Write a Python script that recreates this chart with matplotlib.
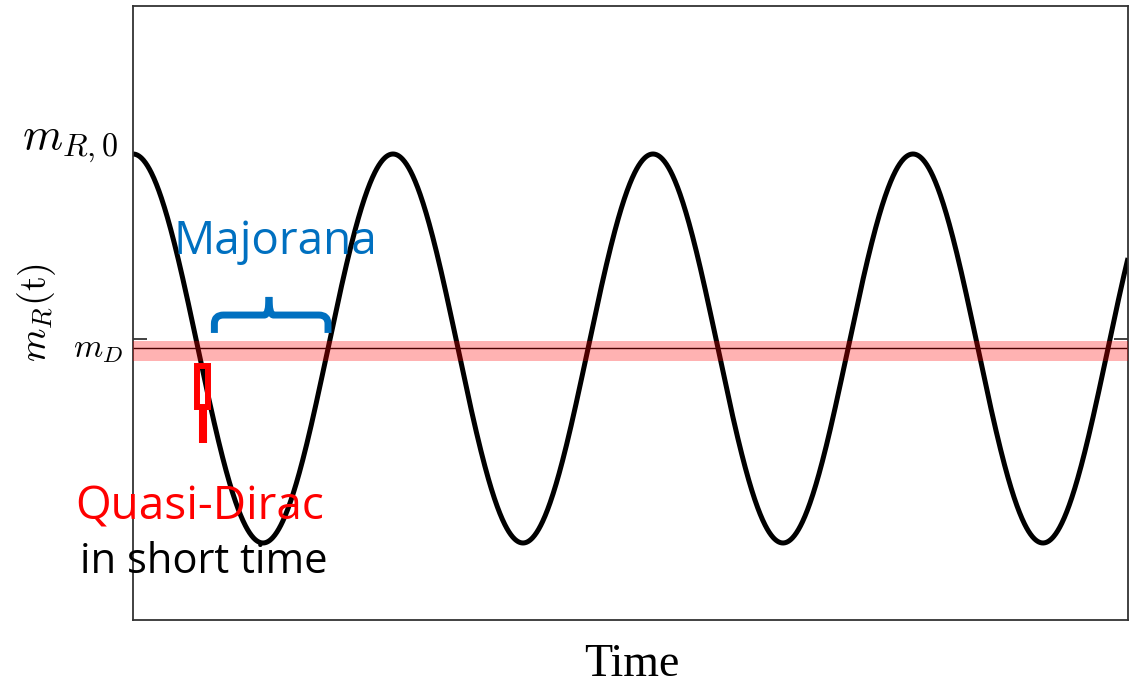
import numpy as np
import matplotlib
matplotlib.use("Agg")
import matplotlib.pyplot as plt
from matplotlib.path import Path
from matplotlib.patches import PathPatch, Rectangle

# ---- data ----
# m_R(t) = m_D + (m_R0 - m_D) * cos(2*pi*t/period)
m_D = 0.0
m_R0 = 1.0
period = 1.0
t_max = 3.827
band_lo, band_hi = -0.064, 0.039
mD_tick = 0.049
y_limits = (-1.396, 1.761)
label_mR0 = r"$m_{R,0}$"
label_mD = r"$m_{D}$"
ylabel = r"$m_R(\mathrm{t})$"
xlabel = "Time"
text_majorana = "Majorana"
text_qd = "Quasi-Dirac"
text_short = "in short time"

t = np.linspace(0, t_max, 2000)
m_R = m_D + (m_R0 - m_D) * np.cos(2 * np.pi * t / period)

fig = plt.figure(figsize=(11.32, 6.87), dpi=100)
ax = fig.add_axes([133/1132, 67/687, 995/1132, 614/687])

ax.axhline(m_D, color="black", lw=1.0, zorder=1)
ax.plot(t, m_R, color="black", lw=3.6, zorder=2, solid_capstyle="butt")
ax.axhspan(band_lo, band_hi, color="red", alpha=0.3, lw=0, zorder=3)

ax.set_xlim(0, t_max)
ax.set_ylim(*y_limits)
ax.set_xticks([])
ax.set_yticks([mD_tick])
ax.set_yticklabels([])
ax.tick_params(axis="y", direction="in", length=10, width=1.3, color="#333333",
               left=True, right=True)
for s in ax.spines.values():
    s.set_color("#333333")
    s.set_linewidth(1.3)

# axis texts
ax.text(-0.015, 0.777, label_mR0, transform=ax.transAxes, ha="right", va="center",
        fontsize=33, math_fontfamily="cm")
ax.text(-0.010, 0.442, label_mD, transform=ax.transAxes, ha="right", va="center",
        fontsize=24, math_fontfamily="cm")
fig.text(37/1132, 1 - 312/687, ylabel, rotation=90, ha="center", va="center",
         fontsize=27.5, math_fontfamily="cm")
fig.text(632/1132, 1 - 665/687, xlabel, ha="center", va="center",
         fontsize=33, family="Liberation Serif")

# Majorana brace (blue)
blue = "#0070C0"
bx0, bx1, bxm = 0.313, 0.750, 0.523
by0, by1, by2 = 0.080, 0.172, 0.265
rx, ry = 0.035, 0.045
verts = [(bx0, by0), (bx0, by1 - ry), (bx0, by1), (bx0 + rx, by1),
         (bxm - rx * 0.5, by1), (bxm, by1), (bxm, by2)]
codes = [Path.MOVETO, Path.LINETO, Path.CURVE3, Path.CURVE3,
         Path.LINETO, Path.CURVE3, Path.CURVE3]
ax.add_patch(PathPatch(Path(verts, codes), fill=False, ec=blue, lw=5.0, zorder=5,
                       capstyle="butt", joinstyle="round"))
verts2 = [(bx1, by0), (bx1, by1 - ry), (bx1, by1), (bx1 - rx, by1),
          (bxm + rx * 0.5, by1), (bxm, by1), (bxm, by2)]
ax.add_patch(PathPatch(Path(verts2, codes), fill=False, ec=blue, lw=5.0, zorder=5,
                       capstyle="butt", joinstyle="round"))
ax.text(0.548, 0.545, text_majorana, ha="center", va="center", color=blue,
        fontsize=33, family="Open Sans", zorder=6)

# Quasi-Dirac marker (red)
ax.add_patch(Rectangle((0.246, -0.301), 0.042, 0.211, fill=False, ec="red",
                       lw=4.3, zorder=5))
ax.plot([0.269, 0.269], [-0.301, -0.486], color="red", lw=5.8,
        solid_capstyle="butt", zorder=5)
ax.text(0.255, -0.82, text_qd, ha="center", va="center", color="red",
        fontsize=33, family="Open Sans", zorder=6, clip_on=False)
ax.text(0.272, -1.10, text_short, ha="center", va="center", color="black",
        fontsize=30, family="Open Sans", zorder=6, clip_on=False)

fig.savefig("out.png", dpi=100)
